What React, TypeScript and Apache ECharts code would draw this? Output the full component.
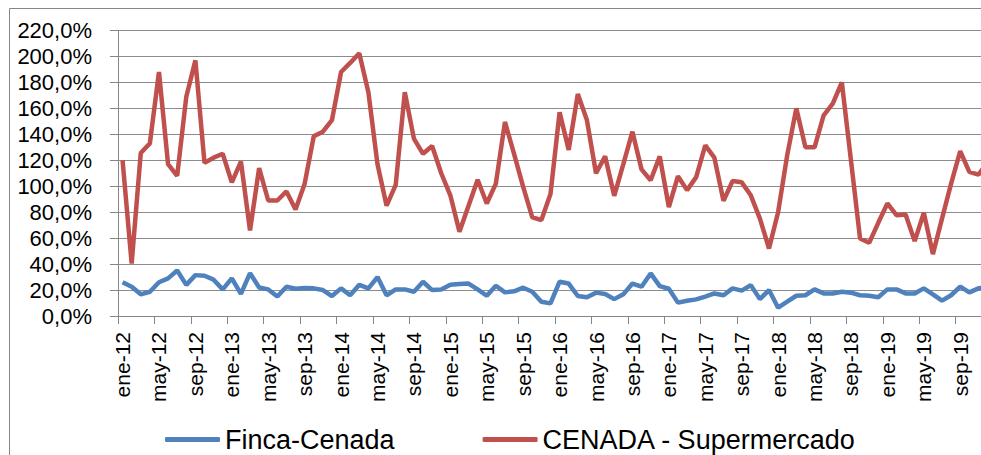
import React, { useEffect, useRef } from "react";
import * as echarts from "echarts";

const monthNames = ["ene", "feb", "mar", "abr", "may", "jun", "jul", "ago", "sep", "oct", "nov", "dic"];
const years = ["12", "13", "14", "15", "16", "17", "18", "19"];
const categories = years.flatMap((y) => monthNames.map((m) => `${m}-${y}`));

const fincaCenada = [
  26, 22.6, 16.7, 18.7, 26, 29, 35, 24, 31.5, 31, 28, 20.5,
  29, 17, 33, 22, 20.5, 15, 22.5, 21, 21.5, 21.3, 20, 15.4,
  21.3, 16, 24, 21.3, 30, 16, 20.5, 20.5, 18.7, 26.4, 20, 20.5,
  24, 24.6, 25, 20.5, 15.6, 23.3, 18.2, 19, 21.8, 18.7, 11, 9.7,
  26.4, 25, 15.4, 14.4, 18, 17, 13, 16.7, 25, 22.6, 32.8, 23,
  21, 10.3, 11.8, 12.8, 14.9, 17.4, 16, 21.3, 19.5, 23.8, 13, 20,
  6.4, 11, 15.6, 16, 20.5, 17.4, 17.4, 18.7, 18, 16, 15.6, 14.4,
  20.5, 20.5, 17.4, 17.4, 21.3, 16.7, 11.8, 16, 22.6, 18.2, 21.3, 22,
];

const cenadaSuper = [
  120, 40.5, 125.6, 133, 188, 117, 108, 169, 197, 118, 122, 125,
  103, 119, 66, 114, 89, 89, 96, 82, 102, 138.5, 142, 151,
  188, 195, 202.5, 172.5, 117, 85, 101, 172.5, 136.7, 125, 131, 110,
  93, 65, 85, 105, 86.7, 102, 149.5, 125, 99.5, 76, 74, 94,
  157, 128, 171, 151, 110, 123, 92.6, 117, 142, 113, 104.6, 123,
  84, 107.7, 97, 107, 131.5, 122, 88.7, 104, 103, 93, 75, 52,
  80, 124, 160, 130, 130, 154.6, 163.6, 180, 120, 59.7, 56.4, 71.8,
  86.7, 77.7, 78.2, 57.7, 79.5, 47.7, 75, 102, 127, 111, 109, 118,
];

const FONT = "Liberation Sans";

export default function App() {
  const ref = useRef<HTMLDivElement>(null);
  useEffect(() => {
    if (!ref.current) return;
    const chart = echarts.init(ref.current, null, { renderer: "svg" });
    chart.setOption({
      animation: false,
      backgroundColor: "#ffffff",
      textStyle: { fontFamily: FONT },
      graphic: [
        {
          type: "rect",
          shape: { x: 9.5, y: 8.5, width: 1200, height: 700 },
          style: { fill: "none", stroke: "#868686", lineWidth: 1 },
          silent: true,
          z: -1,
        },
      ],
      legend: {
        left: 160,
        top: 421,
        itemGap: 88,
        itemWidth: 55,
        itemHeight: 5,
        icon: "roundRect",
        textStyle: { fontFamily: FONT, fontSize: 27, color: "#000" },
        data: ["Finca-Cenada", "CENADA - Supermercado"],
      },
      grid: { left: 118, top: 30.5, width: 96 * 9.105, height: 285.5, containLabel: false },
      xAxis: {
        type: "category",
        data: categories,
        boundaryGap: true,
        axisLine: { lineStyle: { color: "#868686", width: 1 } },
        axisTick: { show: true, interval: 3, length: 8, lineStyle: { color: "#868686" } },
        axisLabel: {
          interval: 3,
          rotate: 90,
          margin: 16,
          fontSize: 21,
          color: "#000",
          fontFamily: FONT,
        },
        splitLine: { show: false },
      },
      yAxis: {
        type: "value",
        min: 0,
        max: 220,
        interval: 20,
        axisLine: { show: true, lineStyle: { color: "#868686", width: 1 } },
        axisTick: { show: true, length: 8, lineStyle: { color: "#868686" } },
        axisLabel: {
          margin: 26,
          fontSize: 22,
          color: "#000",
          fontFamily: FONT,
          formatter: (v: number) => v.toFixed(1).replace(".", ",") + "%",
        },
        splitLine: { show: true, lineStyle: { color: "#8c8c8c", width: 1 } },
      },
      series: [
        {
          name: "Finca-Cenada",
          type: "line",
          data: fincaCenada,
          showSymbol: false,
          symbol: "none",
          lineStyle: { color: "#4F81BD", width: 4.5 },
          itemStyle: { color: "#4F81BD" },
        },
        {
          name: "CENADA - Supermercado",
          type: "line",
          data: cenadaSuper,
          showSymbol: false,
          symbol: "none",
          lineStyle: { color: "#C0504D", width: 4.5 },
          itemStyle: { color: "#C0504D" },
        },
      ],
    });
    return () => chart.dispose();
  }, []);
  return (
    <div style={{ position: "fixed", left: 0, top: 0, width: 981, height: 455, overflow: "hidden", background: "#fff" }}>
      <div ref={ref} style={{ width: 1010, height: 455 }} />
    </div>
  );
}
